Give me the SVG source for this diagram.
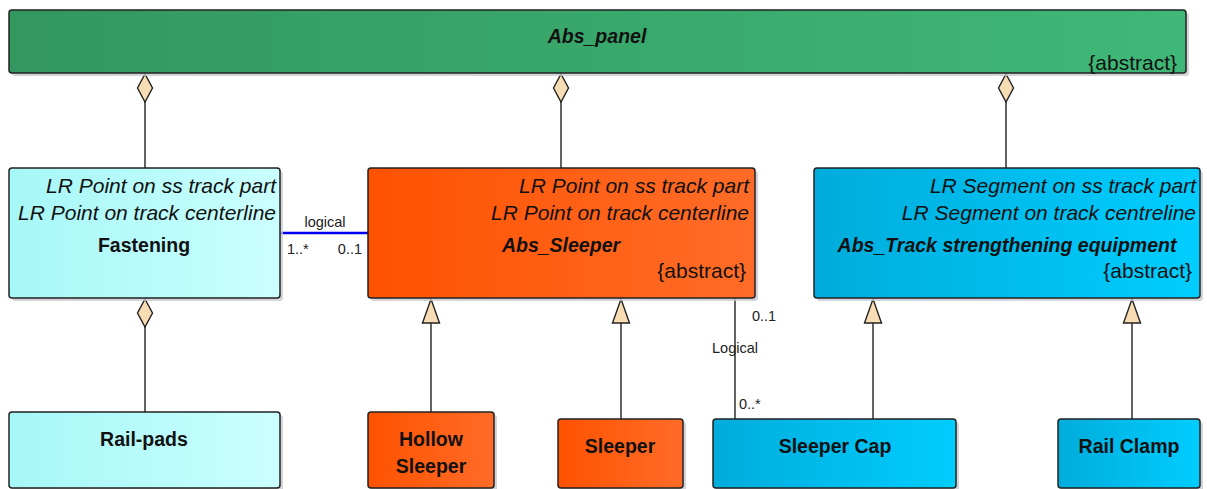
<svg xmlns="http://www.w3.org/2000/svg" width="1207" height="489" viewBox="0 0 1207 489">
<defs>
<linearGradient id="gGreen" x1="0" y1="0" x2="1" y2="0"><stop offset="0" stop-color="#33975F"/><stop offset="1" stop-color="#3FB877"/></linearGradient>
<linearGradient id="gCyan" x1="0" y1="0" x2="1" y2="0"><stop offset="0" stop-color="#A6F7F7"/><stop offset="1" stop-color="#CBFFFF"/></linearGradient>
<linearGradient id="gOrange" x1="0" y1="0" x2="1" y2="0"><stop offset="0" stop-color="#FF5200"/><stop offset="1" stop-color="#FF6C28"/></linearGradient>
<linearGradient id="gBlue" x1="0" y1="0" x2="1" y2="0"><stop offset="0" stop-color="#00ACDB"/><stop offset="1" stop-color="#00CDFF"/></linearGradient>
</defs>
<style>
.box{stroke:#222;stroke-width:1.5}
.sh{fill:#c9c9d2;opacity:0.8}
.t{font-family:"Liberation Sans",Arial,sans-serif;font-size:21px;fill:#111}
.it{font-style:italic}
.b{font-weight:bold;font-size:19.5px}
.r{text-anchor:end}
.c{text-anchor:middle}
.s{font-family:"Liberation Sans",Arial,sans-serif;font-size:14.5px;fill:#222}
.ln{stroke:#222;stroke-width:1.4;fill:none}
.dm{fill:#F7DCB4;stroke:#222;stroke-width:1.4}
</style>

<g id="connectors">
  <line class="ln" x1="145" y1="102" x2="145" y2="168"/>
  <polygon class="dm" points="145,74 152.5,88 145,102 137.5,88"/>
  <line class="ln" x1="561" y1="102" x2="561" y2="168"/>
  <polygon class="dm" points="561,74 568.5,88 561,102 553.5,88"/>
  <line class="ln" x1="1006" y1="102" x2="1006" y2="168"/>
  <polygon class="dm" points="1006,74 1013.5,88 1006,102 998.5,88"/>
  <line class="ln" x1="145" y1="327" x2="145" y2="412"/>
  <polygon class="dm" points="145,299 152.5,313 145,327 137.5,313"/>
  <line x1="280" y1="233" x2="368" y2="233" stroke="#0000EE" stroke-width="2.5"/>
  <text class="s c" x="325" y="227">logical</text>
  <text class="s" x="287" y="254">1..*</text>
  <text class="s r" x="362" y="254">0..1</text>
  <line class="ln" x1="431" y1="323" x2="431" y2="412"/>
  <polygon class="dm" points="431,299 439.5,323 422.5,323"/>
  <line class="ln" x1="621" y1="323" x2="621" y2="419"/>
  <polygon class="dm" points="621,299 629.5,323 612.5,323"/>
  <line class="ln" x1="873" y1="323" x2="873" y2="419"/>
  <polygon class="dm" points="873,299 881.5,323 864.5,323"/>
  <line class="ln" x1="1132" y1="323" x2="1132" y2="419"/>
  <polygon class="dm" points="1132,299 1140.5,323 1123.5,323"/>
  <line class="ln" x1="735" y1="298" x2="735" y2="419"/>
  <text class="s" x="752" y="321">0..1</text>
  <text class="s" x="712" y="353">Logical</text>
  <text class="s" x="739" y="409">0..*</text>
</g>

<g id="abs_panel">
  <rect class="sh" x="12" y="13" width="1177" height="63" rx="3"/>
  <rect class="box" x="9" y="10" width="1177" height="63" rx="3" fill="url(#gGreen)"/>
  <text class="t it b c" x="597" y="43">Abs_panel</text>
  <text class="t r" x="1177" y="70">{abstract}</text>
</g>

<g id="fastening">
  <rect class="sh" x="12" y="171" width="271" height="130" rx="3"/>
  <rect class="box" x="9" y="168" width="271" height="130" rx="3" fill="url(#gCyan)"/>
  <text class="t it r" x="276" y="193">LR Point on ss track part</text>
  <text class="t it r" x="276" y="220">LR Point on track centerline</text>
  <text class="t b c" x="144" y="252">Fastening</text>
</g>

<g id="abs_sleeper">
  <rect class="sh" x="371" y="171" width="387" height="130" rx="3"/>
  <rect class="box" x="368" y="168" width="387" height="130" rx="3" fill="url(#gOrange)"/>
  <text class="t it r" x="749" y="193">LR Point on ss track part</text>
  <text class="t it r" x="749" y="220">LR Point on track centerline</text>
  <text class="t it b c" x="561" y="252">Abs_Sleeper</text>
  <text class="t r" x="746" y="278">{abstract}</text>
</g>

<g id="abs_track">
  <rect class="sh" x="817" y="171" width="386" height="130" rx="3"/>
  <rect class="box" x="814" y="168" width="386" height="130" rx="3" fill="url(#gBlue)"/>
  <text class="t it r" x="1196" y="193">LR Segment on ss track part</text>
  <text class="t it r" x="1196" y="220">LR Segment on track centreline</text>
  <text class="t it b c" x="1007" y="252">Abs_Track strengthening equipment</text>
  <text class="t r" x="1192" y="278">{abstract}</text>
</g>

<g id="rail_pads">
  <rect class="sh" x="12" y="415" width="271" height="80" rx="3"/>
  <rect class="box" x="9" y="412" width="271" height="76" rx="3" fill="url(#gCyan)"/>
  <text class="t b c" x="144" y="446">Rail-pads</text>
</g>

<g id="hollow_sleeper">
  <rect class="sh" x="371" y="415" width="126" height="80" rx="3"/>
  <rect class="box" x="368" y="412" width="126" height="76" rx="3" fill="url(#gOrange)"/>
  <text class="t b c" x="431" y="446">Hollow</text>
  <text class="t b c" x="431" y="473">Sleeper</text>
</g>

<g id="sleeper">
  <rect class="sh" x="561" y="422" width="125" height="80" rx="3"/>
  <rect class="box" x="558" y="419" width="125" height="69" rx="3" fill="url(#gOrange)"/>
  <text class="t b c" x="620" y="453">Sleeper</text>
</g>

<g id="sleeper_cap">
  <rect class="sh" x="716" y="422" width="243" height="80" rx="3"/>
  <rect class="box" x="713" y="419" width="243" height="69" rx="3" fill="url(#gBlue)"/>
  <text class="t b c" x="835" y="453">Sleeper Cap</text>
</g>

<g id="rail_clamp">
  <rect class="sh" x="1061" y="422" width="142" height="80" rx="3"/>
  <rect class="box" x="1058" y="419" width="142" height="69" rx="3" fill="url(#gBlue)"/>
  <text class="t b c" x="1129" y="453">Rail Clamp</text>
</g>
</svg>
